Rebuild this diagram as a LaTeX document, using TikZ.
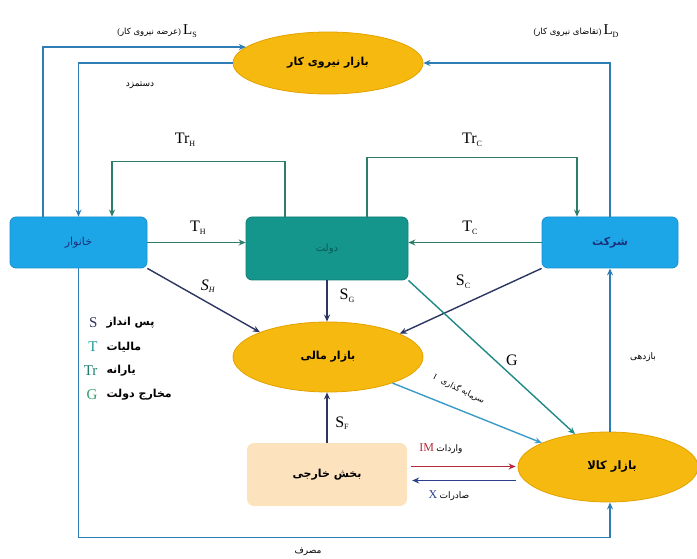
\documentclass[tikz,border=0pt]{standalone}
\usepackage{fontspec}
\setmainfont{Liberation Serif}
\newfontfamily\fa[Script=Arabic]{DejaVu Sans}
\TeXXeTstate=1
\usetikzlibrary{shapes.geometric,arrows.meta,calc}
\definecolor{ellfill}{HTML}{F6B90F}
\definecolor{elldraw}{HTML}{E3A200}
\definecolor{hhfill}{HTML}{1CA6E8}
\definecolor{hhdraw}{HTML}{1590D0}
\definecolor{govfill}{HTML}{15968C}
\definecolor{govdraw}{HTML}{0F7E76}
\definecolor{fsfill}{HTML}{FCE2BD}
\definecolor{cblue}{HTML}{2F7DB5}
\definecolor{cteal}{HTML}{2E7D6B}
\definecolor{cnavy}{HTML}{2D3561}
\definecolor{cgreen}{HTML}{1F8A85}
\definecolor{cinv}{HTML}{3A9AC8}
\definecolor{cred}{HTML}{B5283A}
\definecolor{cxb}{HTML}{2B3F8A}
\definecolor{ctxt}{HTML}{1B2F7A}
\definecolor{cT}{HTML}{229C9A}
\definecolor{cTr}{HTML}{1E7F6E}
\definecolor{cG}{HTML}{2E9E6A}
\newcommand{\fat}[1]{{\fa\beginR #1\endR}}
\newcommand{\fatb}[1]{{\fa\bfseries\beginR #1\endR}}
\newcommand{\sbs}[1]{\raisebox{-0.35ex}{\fontsize{8}{8}\selectfont #1}}
\tikzset{
  ell/.style={ellipse, fill=ellfill, draw=elldraw, line width=0.8pt, inner sep=0pt},
  hbox/.style={rectangle, rounded corners=6pt, fill=hhfill, draw=hhdraw, line width=0.8pt, text=ctxt},
  gbox/.style={rectangle, rounded corners=6pt, fill=govfill, draw=govdraw, line width=0.8pt, text=govdraw!70!black},
  fbox/.style={rectangle, rounded corners=7pt, fill=fsfill},
  arr/.style={-{Stealth[length=7pt,width=6pt]}, line width=1.4pt},
  bl/.style={draw=cblue},
  tl/.style={draw=cteal},
  nv/.style={draw=cnavy},
  gl/.style={draw=cgreen},
  il/.style={draw=cinv},
  rd/.style={draw=cred},
  xb/.style={draw=cxb},
  big/.style={font=\fontsize{16}{16}\selectfont},
  small/.style={font=\fontsize{9}{10}\selectfont},
}
\begin{document}
\begin{tikzpicture}[x=1pt,y=-1pt]
\useasboundingbox (0,0) rectangle (697,559);
% nodes
\node[ell, minimum width=190pt, minimum height=62pt] (lm) at (328,63) {\fontsize{11}{11}\selectfont\fatb{بازار نیروی کار}};
\node[hbox, minimum width=137pt, minimum height=51pt] (hh) at (78.5,242.5) {\fontsize{11}{11}\selectfont\fat{خانوار}};
\node[gbox, minimum width=162pt, minimum height=63pt] (gov) at (327,248.5) {\fontsize{10}{10}\selectfont\fat{دولت}};
\node[hbox, minimum width=136pt, minimum height=51pt] (firm) at (610,242.5) {\fontsize{11}{11}\selectfont\fatb{شرکت}};
\node[ell, minimum width=190pt, minimum height=70pt] (fm) at (328,357) {\fontsize{11}{11}\selectfont\fatb{بازار مالی}};
\node[fbox, minimum width=160pt, minimum height=63pt] (fs) at (327,474.5) {\fontsize{11}{11}\selectfont\fatb{بخش خارجی}};
\node[ell, minimum width=180pt, minimum height=70pt] (gm) at (608,467) {\hspace{8pt}\fontsize{11.5}{11}\selectfont\fatb{بازار کالا}};
% connectors
\draw[bl,arr] ([xshift=-35.5pt]hh.north) |- (lm.169);
\draw[bl,arr] (lm.west) -| (hh.north);
\draw[bl,arr] (firm.north) |- (lm.east);
\draw[tl,arr] ([xshift=-42pt]gov.north) -- ++(0,-55) -| ([xshift=33.5pt]hh.north);
\draw[tl,arr] ([xshift=40pt]gov.north) -- ++(0,-59) -| ([xshift=-33pt]firm.north);
\draw[tl,arr] (hh.east) -- (hh.east -| gov.west);
\draw[tl,arr] (firm.west) -- (firm.west -| gov.east);
\draw[nv,arr] (hh.south east) -- (fm.160);
\draw[nv,arr] (gov.south) -- (gov.south |- fm.north);
\draw[nv,arr] (firm.south west) -- (fm.18);
\draw[gl,arr] (gov.south east) -- (gm.135);
\draw[il,arr] (fm.-22) -- (gm.160);
\draw[nv,arr] (fs.north) -- (fs.north |- fm.south);
\draw[rd,arr] ($(fs.east)+(4,-8)$) -- ($(fs.east -| gm.west)+(-2,-8)$);
\draw[xb,arr] ($(fs.east -| gm.west)+(-2,6)$) -- ($(fs.east)+(5,6)$);
\draw[bl,arr] (hh.south) -- ++(0,269) -| (gm.south -| firm.south);
\draw[bl,arr] (gm.north -| firm.south) -- (firm.south);
% labels
\node[inner sep=0pt] (lLS) at (157,31) {\fontsize{8.5}{9}\selectfont(\fat{عرضه نیروی کار})\ {\fontsize{15}{15}\selectfont L\sbs{S}}};
\node[inner sep=0pt] (lLD) at (576,31) {\fontsize{8.5}{9}\selectfont(\fat{تقاضای نیروی کار})\ {\fontsize{15}{15}\selectfont L\sbs{D}}};
\node[small] (lw) at (140,85) {\fat{دستمزد}};
\node[big] (lTrH) at (185,140) {Tr\sbs{H}};
\node[big] (lTrC) at (472,140) {Tr\sbs{C}};
\node[big] (lTH) at (198,228) {T\sbs{H}};
\node[big] (lTC) at (470,228) {T\sbs{C}};
\node[big] (lSH) at (208,286) {\textit{S}\sbs{\textit{H}}};
\node[big] (lSG) at (347,296) {S\sbs{G}};
\node[big] (lSC) at (463,282) {S\sbs{C}};
\node[big] (lG) at (512,360) {G};
\node[big] (lSF) at (342,423) {S\sbs{F}};
\node[font=\fontsize{8}{9}\selectfont, rotate=-27, inner sep=1pt] (lI) at (459,389) {I\hspace{6pt}\fat{سرمایه گذاری}};
\node[small] (lIM) at (441,449) {{\fontsize{12}{12}\selectfont\color{cred}IM} \fat{واردات}};
\node[small] (lX) at (449,496) {{\fontsize{12}{12}\selectfont\color{cxb}X} \fat{صادرات}};
\node[small] (lc) at (308,552) {\fat{مصرف}};
\node[small] (lr) at (643,357) {\fat{بازدهی}};
% legend
\node[anchor=east, text=cnavy, font=\fontsize{15}{15}\selectfont] (kS) at (101,323) {S};
\node[anchor=west, font=\fontsize{11}{11}\selectfont] (wS) at (103,323) {\fatb{پس انداز}};
\node[anchor=east, text=cT, font=\fontsize{15}{15}\selectfont] (kT) at (101,347) {T};
\node[anchor=west, font=\fontsize{11}{11}\selectfont] (wT) at (103,347) {\fatb{مالیات}};
\node[anchor=east, text=cTr, font=\fontsize{15}{15}\selectfont] (kTr) at (101,371) {Tr};
\node[anchor=west, font=\fontsize{11}{11}\selectfont] (wTr) at (103,371) {\fatb{یارانه}};
\node[anchor=east, text=cG, font=\fontsize{15}{15}\selectfont] (kG) at (101,395) {G};
\node[anchor=west, font=\fontsize{11}{11}\selectfont] (wG) at (103,395) {\fatb{مخارج دولت}};
\end{tikzpicture}
\end{document}
